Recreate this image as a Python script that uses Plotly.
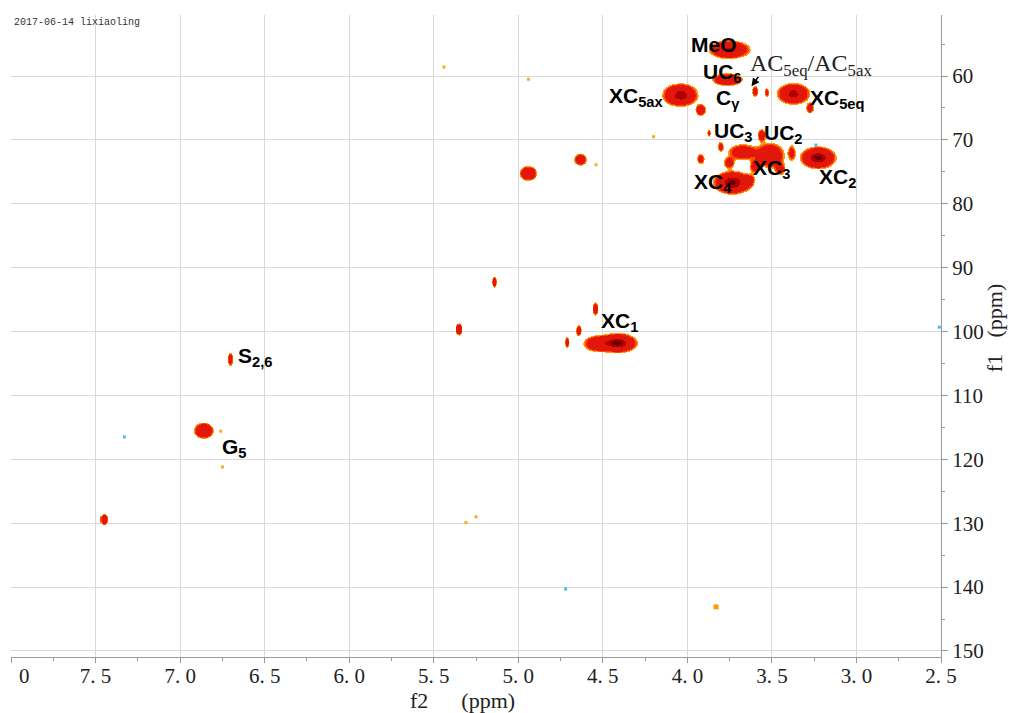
import numpy as np
import plotly.graph_objects as go

# ---------------- data ----------------
# cross-peaks: f2 (ppm), f1 (ppm), linewidths (sigma, ppm) and relative intensity
peak_f2 = [3.75, 3.76, 4.04, 3.37, 3.27, 3.92, 3.60, 3.53, 3.67, 3.51, 3.56, 3.38, 3.92,
           3.225, 3.73, 3.63, 3.87, 4.94, 4.63, 5.14, 5.35, 4.54, 4.41, 4.53, 4.64, 4.71,
           6.70, 6.86, 7.45, 3.75, 3.45, 3.60, 3.80]
peak_f1 = [55.9, 60.6, 63.0, 62.8, 65.0, 65.3, 62.4, 62.6, 71.9, 72.4, 69.3, 72.0, 73.0,
           72.8, 76.7, 76.3, 69.0, 75.3, 73.1, 92.2, 99.6, 96.5, 101.8, 101.9, 99.8, 101.7,
           104.4, 115.5, 129.4, 73.6, 74.6, 74.2, 71.0]
peak_w2 = [0.06, 0.05, 0.05, 0.048, 0.014, 0.018, 0.012, 0.01, 0.05, 0.045, 0.015, 0.015, 0.015,
           0.05, 0.055, 0.015, 0.008, 0.025, 0.022, 0.008, 0.01, 0.01, 0.055, 0.045, 0.01, 0.008,
           0.01, 0.03, 0.012, 0.02, 0.02, 0.02, 0.012]
peak_w1 = [0.7, 0.55, 0.85, 0.8, 0.5, 0.55, 0.55, 0.45, 0.75, 1.05, 0.55, 0.85, 0.55,
           0.85, 0.85, 0.45, 0.45, 0.6, 0.55, 0.5, 0.55, 0.6, 0.75, 0.7, 0.55, 0.55,
           0.65, 0.65, 0.5, 0.55, 0.65, 0.65, 0.55]
peak_amp = [1.05, 0.75, 1.25, 1.15, 0.5, 0.6, 0.4, 0.3, 0.55, 0.85, 0.5, 0.35, 0.4,
            1.35, 1.35, 0.35, 0.3, 0.9, 0.6, 0.6, 0.65, 0.6, 1.4, 0.7, 0.5, 0.45,
            0.5, 0.95, 0.7, 0.45, 0.4, 0.45, 0.35]

# weak single points (noise / small peaks)
weak_f2 = [5.44, 4.94, 4.20, 4.54, 6.75, 5.31, 5.25, 6.76]
weak_f1 = [58.6, 60.5, 69.5, 73.9, 121.2, 129.9, 129.0, 115.6]
orange_f2 = [3.83]
orange_f1 = [143.1]
neg_f2 = [7.33, 4.72, 2.51, 3.24]
neg_f1 = [116.5, 140.3, 99.3, 70.8]

# assignments
lab_text = ["MeO", "UC<sub>6</sub>", "XC<sub>5ax</sub>", "C<sub>γ</sub>", "XC<sub>5eq</sub>",
            "UC<sub>3</sub>", "UC<sub>2</sub>", "XC<sub>3</sub>", "XC<sub>2</sub>", "XC<sub>4</sub>",
            "XC<sub>1</sub>", "S<sub>2,6</sub>", "G<sub>5</sub>"]
lab_f2 = [3.84, 3.79, 4.30, 3.76, 3.11, 3.73, 3.43, 3.50, 3.11, 3.85, 4.40, 6.56, 6.68]
lab_f1 = [55.0, 59.6, 63.3, 63.6, 63.6, 68.8, 69.0, 74.6, 76.0, 76.8, 98.5, 104.0, 118.3]

x_ticks = [8.0, 7.5, 7.0, 6.5, 6.0, 5.5, 5.0, 4.5, 4.0, 3.5, 3.0, 2.5]
x_ticktext = ["\u00a0\u00a0\u00a0\u00a0\u00a00", "7. 5", "7. 0", "6. 5", "6. 0", "5. 5", "5. 0",
              "4. 5", "4. 0", "3. 5", "3. 0", "2. 5"]
y_ticks = [60, 70, 80, 90, 100, 110, 120, 130, 140, 150]
x_title = "f2" + "\u00a0" * 6 + "(ppm)"
y_title = "f1" + "\u00a0" * 3 + "(ppm)"

# ---------------- spectrum surface from the peak list ----------------
gx = np.arange(2.5, 8.0 + 1e-9, 0.006)
gy = np.arange(50.5, 151.0, 0.16)
X, Y = np.meshgrid(gx, gy)
field = np.zeros_like(X)
for x0, y0, w2, w1, a in zip(peak_f2, peak_f1, peak_w2, peak_w1, peak_amp):
    field += a * np.exp(-0.5 * ((X - x0) / w2) ** 2 - 0.5 * ((Y - y0) / w1) ** 2)

thresholds = [0.13, 0.18, 0.25, 0.95, 1.25]
level = np.zeros(field.shape, dtype=np.uint8)
for t in thresholds:
    level += (field > t).astype(np.uint8)

cols = ["rgba(255,255,255,0)", "#ff9a10", "#ff4a00", "#e2160a", "#b00000", "#680000"]
cs = []
n = len(cols)
for k, c in enumerate(cols):
    cs.append([k / n, c])
    cs.append([(k + 1) / n, c])

fig = go.Figure()
fig.add_trace(go.Heatmap(x=gx, y=gy, z=level, zmin=-0.5, zmax=5.5, colorscale=cs,
                         showscale=False, hoverinfo="skip", zsmooth=False))
fig.add_trace(go.Scatter(x=weak_f2, y=weak_f1, mode="markers", hoverinfo="skip",
                         marker=dict(symbol="square", size=3, color="#f0b020"), showlegend=False))
fig.add_trace(go.Scatter(x=orange_f2, y=orange_f1, mode="markers", hoverinfo="skip",
                         marker=dict(symbol="square", size=5, color="#ff9a00"), showlegend=False))
fig.add_trace(go.Scatter(x=neg_f2, y=neg_f1, mode="markers", hoverinfo="skip",
                         marker=dict(symbol="square", size=3, color="#40c0e8"), showlegend=False))

for t, x, y in zip(lab_text, lab_f2, lab_f1):
    fig.add_annotation(x=x, y=y, text="<b>" + t + "</b>", showarrow=False,
                       xanchor="center", yanchor="middle",
                       font=dict(family="Liberation Sans, Arial", size=21, color="black"))
fig.add_annotation(x=3.27, y=58.3, text="AC<sub>5eq</sub>/AC<sub>5ax</sub>", showarrow=False,
                   xanchor="center", yanchor="middle",
                   font=dict(family="Liberation Serif, Times New Roman", size=24, color="#222"))
fig.add_annotation(x=3.621, y=61.6, ax=3.574, ay=59.9, axref="x", ayref="y", text="",
                   showarrow=True, arrowhead=2, arrowsize=1, arrowwidth=1.6, arrowcolor="black")
fig.add_annotation(xref="paper", yref="paper", x=0.001, y=1.0, xanchor="left", yanchor="top",
                   text="2017-06-14 lixiaoling", showarrow=False,
                   font=dict(family="Liberation Mono, monospace", size=10, color="#333"))

axis_font = dict(family="Liberation Serif, Times New Roman", size=21, color="#222")
title_font = dict(family="Liberation Serif, Times New Roman", size=22, color="#222")
fig.add_annotation(xref="paper", yref="paper", x=0.486, y=-0.068, xanchor="center",
                   yanchor="middle", text=x_title, showarrow=False, font=title_font)
fig.add_annotation(xref="paper", yref="paper", x=1.057, y=0.512, xanchor="center",
                   yanchor="middle", text=y_title, showarrow=False, textangle=-90,
                   font=title_font)

fig.update_xaxes(range=[8.0005, 2.5], tickmode="array", tickvals=x_ticks, ticktext=x_ticktext,
                 tickfont=axis_font, showgrid=True, gridcolor="#d8d8d8", gridwidth=1,
                 zeroline=False, showline=True, linecolor="#999", linewidth=1,
                 ticks="outside", ticklen=5, tickcolor="#999", automargin=False,
                 ticklabeloverflow="allow", ticklabelstandoff=-5,
                 minor=dict(tick0=2.5, dtick=0.25, ticks="outside", ticklen=3, tickcolor="#999",
                            showgrid=False))
fig.update_yaxes(range=[150.94, 50.45], side="right", tickmode="array", tickvals=y_ticks,
                 tickfont=axis_font, showgrid=True, gridcolor="#d8d8d8", gridwidth=1,
                 zeroline=False, showline=True, linecolor="#999", linewidth=1,
                 ticks="outside", ticklen=6, tickcolor="#999", automargin=False,
                 minor=dict(tick0=55, dtick=10, ticks="outside", ticklen=3, tickcolor="#999",
                            showgrid=False))
fig.update_layout(width=1009, height=713, margin=dict(l=11, r=68, t=15, b=56, autoexpand=False),
                  plot_bgcolor="white", paper_bgcolor="white", showlegend=False)
fig.write_html("out.html", config={"displayModeBar": False},
               post_script="document.body.style.margin='0';")
